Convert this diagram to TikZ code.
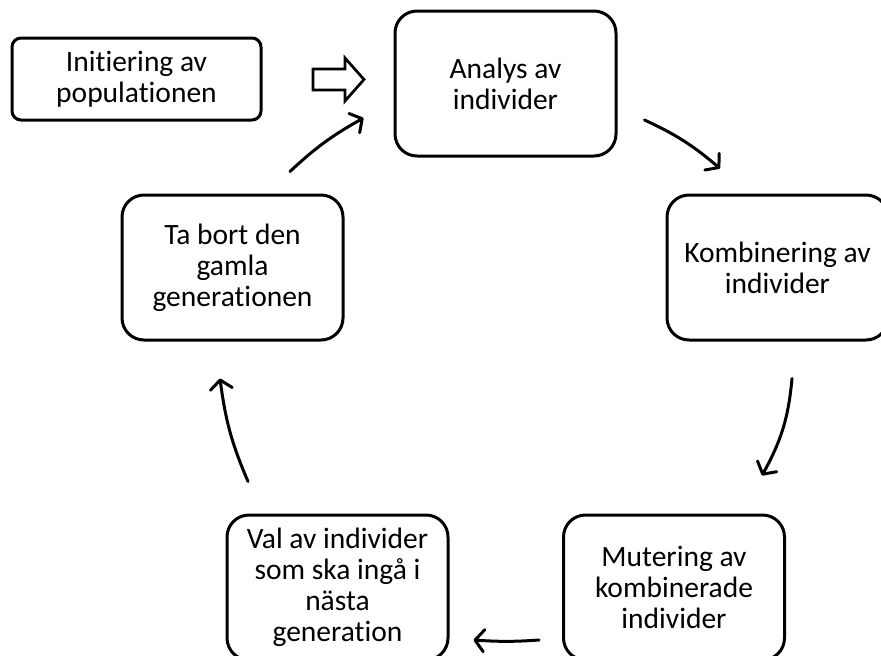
\documentclass[tikz,border=0pt]{standalone}
\usepackage{fontspec}
\setmainfont{Carlito}[Ligatures={NoCommon}]
\usetikzlibrary{arrows.meta,bending}
\begin{document}
\begin{tikzpicture}[x=1pt,y=1pt,
  box/.style={draw, line width=3pt, rounded corners=22pt, minimum width=221pt,
    minimum height=145pt, inner sep=0pt, align=center,
    font=\fontsize{29.5}{31}\selectfont},
  flow/.style={line width=3pt, line cap=round,
    -{Straight Barb[length=9pt,width=22pt,line cap=round,line join=round]}},
  blockarrow/.style={draw, line width=2.7pt, fill=white, line join=miter}]
\useasboundingbox (0,0) rectangle (881,-656);
\node[box, rounded corners=9pt, minimum width=249pt, minimum height=82pt] (init) at (136.5,-79) {Initiering av\\populationen};
\node[box] (analys) at (505.5,-83.5) {Analys av\\individer};
\node[box] (komb) at (777.5,-267.5) {Kombinering av\\individer};
\node[box] (mut) at (674,-587.5) {Mutering av\\kombinerade\\individer};
\node[box] (val) at (337.5,-587.5) {Val av individer\\som ska ingå i\\nästa\\generation};
\node[box] (tabort) at (232.5,-267.5) {Ta bort den\\gamla\\generationen};
% block arrow between init and analys
\draw[blockarrow] (313,-69) -- (345,-69) -- (345,-58) -- (364,-79.5) -- (345,-101) -- (345,-90) -- (313,-90) -- cycle;
% cycle connectors
\draw[flow] ([shift={(57.5,22)}]tabort.north) to[bend left=7] ([shift={(-30,-34.5)}]analys.west);
\draw[flow] ([shift={(27,-36.5)}]analys.east) to[bend left=8] ([shift={(-57.5,25)}]komb.north);
\draw[flow] ([shift={(14.5,-37)}]komb.south) to[bend left=12] ([shift={(88,38)}]mut.north);
\draw[flow] ([shift={(-23,-52.5)}]mut.west) to[bend left=4] ([shift={(24,-52.5)}]val.east);
\draw[flow] ([shift={(-89.5,32)}]val.north) to[bend left=8] ([shift={(-12.5,-37)}]tabort.south);
\end{tikzpicture}
\end{document}
